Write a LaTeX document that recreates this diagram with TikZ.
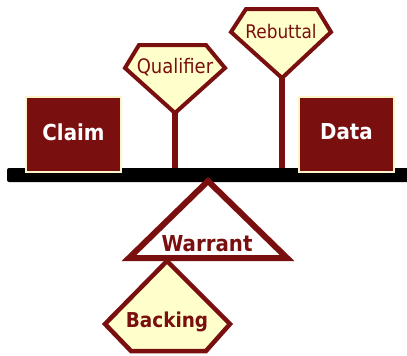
\documentclass[tikz,border=0pt]{standalone}
\usepackage{fontspec}
\setmainfont{DejaVu Sans Condensed}
\definecolor{dred}{HTML}{7A0F0F}
\definecolor{lyel}{HTML}{FFFFCC}
\definecolor{cream}{HTML}{FFF3C8}
\tikzset{
  boxst/.style={fill=dred, draw=cream, line width=1.5pt},
  gemst/.style={fill=lyel, draw=dred, line width=4pt, line join=miter},
  stemst/.style={draw=dred, line width=6.5pt},
  boxtext/.style={text=white, font=\bfseries\fontsize{22}{22}\selectfont},
  gemtext/.style={text=dred, font=\fontsize{19}{19}\selectfont},
  boldtext/.style={text=dred, font=\bfseries\fontsize{22}{22}\selectfont},
}
\begin{document}
\begin{tikzpicture}[x=1pt,y=-1pt]
\useasboundingbox (0,0) rectangle (407,356);
% beam
\fill[black, rounded corners=2pt] (7,168) rectangle (412,182);
\coordinate (beamq) at (175,168);
\coordinate (beamr) at (282,168);
% boxes
\draw[boxst] (26,97) rectangle (121,172);
\node[boxtext] (claim) at (73.5,132) {Claim};
\draw[boxst] (299,97) rectangle (394,172);
\node[boxtext] (data) at (346.5,132) {Data};
% qualifier
\coordinate (qb) at (175,113);
\draw[stemst] (qb) -- (beamq);
\draw[gemst] (139,45) -- (206,45) -- (225,68) -- (qb) -- (125,68) -- cycle;
\node[gemtext, font=\fontsize{20}{20}\selectfont] (qual) at (175,67) {Qualifier};
% rebuttal
\coordinate (rb) at (282,78);
\draw[stemst] (rb) -- (beamr);
\draw[gemst] (246,9) -- (317,9) -- (331,32) -- (rb) -- (231,32) -- cycle;
\node[gemtext, font=\fontsize{18.8}{19}\selectfont] (reb) at (281,31) {Rebuttal};
% warrant triangle
\draw[draw=dred, line width=6pt, line join=miter, miter limit=10] (208,181) -- (287,258) -- (129,258) -- cycle;
\node[boldtext] (warrant) at (207,244) {Warrant};
% backing
\draw[gemst, line width=4.5pt] (167,261) -- (230,324) -- (206,351) -- (131,351) -- (105,324) -- cycle;
\node[boldtext, font=\bfseries\fontsize{20.5}{21}\selectfont] (backing) at (167,322) {Backing};
\end{tikzpicture}
\end{document}
